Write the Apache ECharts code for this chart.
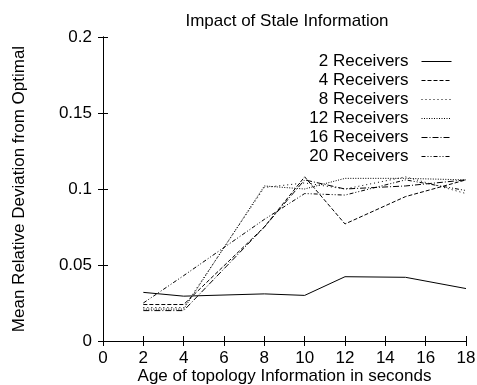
<!DOCTYPE html>
<html lang="en">
  <head>
    <meta charset="UTF-8">
    <title>Impact of Stale Information</title>
    <script src="https://cdn.jsdelivr.net/npm/echarts@6/dist/echarts.min.js"></script>
    <style>
      body { margin: 0; background: #fff; }
    </style>
  </head>
  <body>
    <div id="main" style="width: 477px; height: 385px"></div>
    <script type="text/javascript">
      // age of topology info (seconds)
      var ages = [2, 4, 8, 10, 12, 15, 18];
      var names = ['2 Receivers', '4 Receivers', '8 Receivers', '12 Receivers', '16 Receivers', '20 Receivers'];

      var r2  = [0.032, 0.0295, 0.031, 0.030, 0.0423, 0.0419, 0.0345];
      var r4  = [0.024, 0.024, 0.075, 0.108, 0.077, 0.095, 0.106];
      var r8  = [0.022, 0.022, 0.101, 0.104, 0.100, 0.108, 0.097];
      var r12 = [0.021, 0.021, 0.102, 0.100, 0.107, 0.107, 0.106];
      var r16 = [0.020, 0.020, 0.075, 0.106, 0.100, 0.102, 0.106];
      var r20 = [0.025, 0.043, 0.080, 0.097, 0.096, 0.106, 0.099];

      var dashes = ['solid', [4, 2], [1, 3], [1, 1.5], [6, 2, 1, 2], [4, 2, 1, 2, 1, 2]];
      var values = [r2, r4, r8, r12, r16, r20];

      var font = 'Liberation Sans';
      var fs = 17;
      var chart = echarts.init(document.getElementById('main'));

      var series = [];
      for (var i = 0; i < names.length; i++) {
        var pts = [];
        for (var j = 0; j < ages.length; j++) {
          pts.push([ages[j], values[i][j]]);
        }
        series.push({
          name: names[i],
          type: 'line',
          data: pts,
          symbol: 'none',
          animation: false,
          lineStyle: { color: '#000', width: 1, type: dashes[i] },
          itemStyle: { color: '#000' }
        });
      }

      var tickStyle = { show: true, inside: true, length: 5, lineStyle: { color: '#000' } };

      chart.setOption({
        animation: false,
        textStyle: { fontFamily: font, color: '#000' },
        title: {
          text: 'Impact of Stale Information',
          left: 282, textAlign: 'center', top: 8,
          textStyle: { fontFamily: font, fontSize: fs, fontWeight: 'normal', color: '#000' }
        },
        legend: {
          orient: 'vertical',
          align: 'right',
          right: 20,
          top: 48,
          itemWidth: 30,
          itemHeight: 14,
          itemGap: 2,
          itemStyle: { opacity: 0, color: 'rgba(0,0,0,0)', borderWidth: 0 },
          lineStyle: { width: 1 },
          textStyle: { fontFamily: font, fontSize: fs, color: '#000', padding: [0, 8, 0, 0] },
          data: names
        },
        grid: { left: 103, right: 11, top: 37, bottom: 44, outerBoundsMode: 'none' },
        xAxis: [{
          type: 'value', min: 0, max: 18, interval: 2,
          name: 'Age of topology Information in seconds',
          nameLocation: 'middle', nameGap: 27, nameMoveOverlap: false,
          nameTextStyle: { fontFamily: font, fontSize: fs, color: '#000' },
          axisLine: { lineStyle: { color: '#000' } },
          axisTick: tickStyle,
          axisLabel: { fontFamily: font, fontSize: fs, color: '#000', margin: 9 },
          splitLine: { show: false }
        }, {
          type: 'value', min: 0, max: 18, interval: 2, position: 'top',
          axisLine: { show: true, lineStyle: { color: '#000' } },
          axisTick: tickStyle,
          axisLabel: { show: false },
          splitLine: { show: false }
        }],
        yAxis: [{
          type: 'value', min: 0, max: 0.2, interval: 0.05,
          name: 'Mean Relative Deviation from Optimal',
          nameLocation: 'middle', nameGap: 75, nameMoveOverlap: false,
          nameTextStyle: { fontFamily: font, fontSize: fs, color: '#000' },
          axisLine: { show: true, lineStyle: { color: '#000' } },
          axisTick: tickStyle,
          axisLabel: { fontFamily: font, fontSize: fs, color: '#000', margin: 11 },
          splitLine: { show: false }
        }, {
          type: 'value', min: 0, max: 0.2, interval: 0.05, position: 'right',
          axisLine: { show: true, lineStyle: { color: '#000' } },
          axisTick: tickStyle,
          axisLabel: { show: false },
          splitLine: { show: false }
        }],
        series: series
      });
    </script>
  </body>
</html>
